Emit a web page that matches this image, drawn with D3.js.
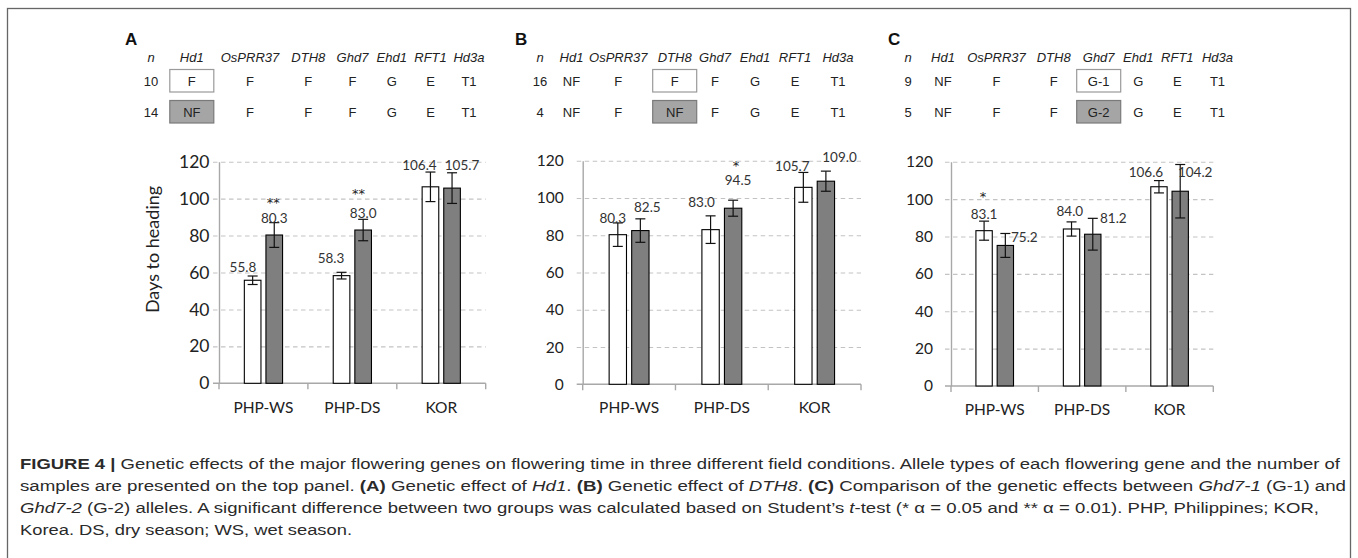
<!DOCTYPE html>
<html><head><meta charset="utf-8">
<script src="https://cdn.jsdelivr.net/npm/d3@7"></script>
<style>body{margin:0;background:#fff} svg{display:block}</style>
</head><body><svg id="c" width="1358" height="558"></svg>
<script>
// ---------------- data ----------------
const categories = ["PHP-WS", "PHP-DS", "KOR"];
const yTickValues = [0, 20, 40, 60, 80, 100, 120];
const genes = ["Hd1", "OsPRR37", "DTH8", "Ghd7", "Ehd1", "RFT1", "Hd3a"];

// panel A: Hd1
const nA = [10, 14];
const allelesA1 = ["F", "F", "F", "F", "G", "E", "T1"];
const allelesA2 = ["NF", "F", "F", "F", "G", "E", "T1"];
const whiteA = [55.8, 58.3, 106.4];
const grayA = [80.3, 83.0, 105.7];
const errWhiteA = [2.3, 1.8, 8.0];
const errGrayA = [6.7, 5.8, 8.3];
const starWhiteA = ["", "", ""];
const starGrayA = ["**", "**", ""];

// panel B: DTH8
const nB = [16, 4];
const allelesB1 = ["NF", "F", "F", "F", "G", "E", "T1"];
const allelesB2 = ["NF", "F", "NF", "F", "G", "E", "T1"];
const whiteB = [80.3, 83.0, 105.7];
const grayB = [82.5, 94.5, 109.0];
const errWhiteB = [6.3, 7.4, 8.0];
const errGrayB = [6.3, 4.3, 5.4];
const starWhiteB = ["", "", ""];
const starGrayB = ["", "*", ""];

// panel C: Ghd7
const nC = [9, 5];
const allelesC1 = ["NF", "F", "F", "G-1", "G", "E", "T1"];
const allelesC2 = ["NF", "F", "F", "G-2", "G", "E", "T1"];
const whiteC = [83.1, 84.0, 106.6];
const grayC = [75.2, 81.2, 104.2];
const errWhiteC = [5.1, 3.8, 3.3];
const errGrayC = [6.4, 8.5, 14.3];
const starWhiteC = ["*", "", ""];
const starGrayC = ["", "", ""];

const captionLines = [
  [["b","FIGURE 4 | "],["n","Genetic effects of the major flowering genes on flowering time in three different field conditions. Allele types of each flowering gene and the number of"]],
  [["n","samples are presented on the top panel. "],["b","(A)"],["n"," Genetic effect of "],["i","Hd1"],["n",". "],["b","(B)"],["n"," Genetic effect of "],["i","DTH8"],["n",". "],["b","(C)"],["n"," Comparison of the genetic effects between "],["i","Ghd7-1"],["n"," (G-1) and"]],
  [["i","Ghd7-2"],["n"," (G-2) alleles. A significant difference between two groups was calculated based on Student’s "],["i","t"],["n","-test (* α = 0.05 and ** α = 0.01). PHP, Philippines; KOR,"]],
  [["n","Korea. DS, dry season; WS, wet season."]]
];

// ---------------- layout ----------------
const panels = [
  { key: "A", n: nA, rows: [allelesA1, allelesA2], boxCol: 0,
    white: whiteA, gray: grayA, ew: errWhiteA, eg: errGrayA, sw: starWhiteA, sg: starGrayA,
    letterX: 125, nX: 151, colX: [191.8, 250, 308.3, 352.5, 391.7, 430.5, 469],
    x0: 219, x1: 485.7, yTop: 161.7, yBot: 383.3, tickFont: 17.5, tickGap: 9.5, catY: 413.5, catFont: 15.5, ylabel: true,
    lw: [[-9.7, -12.8], [-10.5, -17.3], [-11, -21.8]], lg: [[0, -17], [0, -16.7], [10, -23.1]],
    stw: [[0,0],[0,0],[0,0]], stg: [[-1, -35], [-4.7, -39.5], [0, 0]] },
  { key: "B", n: nB, rows: [allelesB1, allelesB2], boxCol: 2,
    white: whiteB, gray: grayB, ew: errWhiteB, eg: errGrayB, sw: starWhiteB, sg: starGrayB,
    letterX: 515, nX: 540, colX: [571.5, 618.3, 674.7, 715, 755, 795, 838],
    x0: 582.7, x1: 861, yTop: 160.7, yBot: 384.3, tickFont: 15.5, tickGap: 19, catY: 413.5, catFont: 15.5, ylabel: false,
    lw: [[-5, -16.4], [-9, -28], [-11, -21.3]], lg: [[7, -23.9], [5, -28.2], [13.6, -23.9]],
    stw: [[0,0],[0,0],[0,0]], stg: [[0, 0], [3, -45.5], [0, 0]] },
  { key: "C", n: nC, rows: [allelesC1, allelesC2], boxCol: 3,
    white: whiteC, gray: grayC, ew: errWhiteC, eg: errGrayC, sw: starWhiteC, sg: starGrayC,
    letterX: 888, nX: 908, colX: [943, 996.5, 1053.7, 1098.7, 1138.3, 1177.3, 1217.5],
    x0: 951, x1: 1213.3, yTop: 161.7, yBot: 386, tickFont: 15.5, tickGap: 18, catY: 415, catFont: 15.5, ylabel: false,
    lw: [[0, -16.7], [-1.7, -18.3], [-13, -15.1]], lg: [[19, -8.2], [20.6, -15.9], [15, -18.6]],
    stw: [[-1, -37],[0,0],[0,0]], stg: [[0, 0], [0, 0], [0, 0]] }
];

const svg = d3.select("#c");
const chartFont = "Lato, 'Open Sans', sans-serif";
const tableFont = "'Liberation Sans', Arial, sans-serif";

// outer frame
svg.append("rect").attr("x", 7.5).attr("y", 8.5).attr("width", 1343).attr("height", 600)
  .attr("fill", "none").attr("stroke", "#666").attr("stroke-width", 1.3);

panels.forEach(p => {
  const g = svg.append("g");
  // panel letter
  g.append("text").attr("x", p.letterX).attr("y", 45).text(p.key)
    .attr("font-family", tableFont).attr("font-weight", "bold").attr("font-size", 17).attr("fill", "#111");

  // allele table
  const t = g.append("g").attr("font-family", tableFont).attr("font-size", 13).attr("fill", "#222");
  t.append("text").attr("x", p.nX).attr("y", 61.5).attr("text-anchor", "middle").attr("font-style", "italic").text("n");
  genes.forEach((gn, i) => t.append("text").attr("x", p.colX[i]).attr("y", 61.5)
    .attr("text-anchor", "middle").attr("font-style", "italic").text(gn));
  const rowY = [81, 112];
  const bx = p.colX[p.boxCol];
  t.append("rect").attr("x", bx - 22).attr("y", rowY[0] - 11.5).attr("width", 44).attr("height", 22.5)
    .attr("fill", "#fff").attr("stroke", "#9a9a9a").attr("stroke-width", 1.2);
  t.append("rect").attr("x", bx - 22).attr("y", rowY[1] - 11.5).attr("width", 44).attr("height", 22.5)
    .attr("fill", "#a5a5a5").attr("stroke", "#7a7a7a").attr("stroke-width", 1.2);
  p.rows.forEach((row, r) => {
    t.append("text").attr("x", p.nX).attr("y", rowY[r]).attr("dy", "0.36em").attr("text-anchor", "middle").text(p.n[r]);
    row.forEach((a, i) => t.append("text").attr("x", p.colX[i]).attr("y", rowY[r]).attr("dy", "0.36em")
      .attr("text-anchor", "middle").text(a));
  });

  // scales
  const x = d3.scaleBand().domain(categories).range([p.x0, p.x1]).paddingInner(0).paddingOuter(0);
  const y = d3.scaleLinear().domain([0, 120]).range([p.yBot, p.yTop]);
  const band = x.bandwidth();
  const bw = band * 0.187, gap = band * 0.056;

  // gridlines
  const grid = g.append("g").attr("transform", `translate(${p.x0},0)`)
    .call(d3.axisLeft(y).tickValues(yTickValues.filter(v => v > 0)).tickSize(-(p.x1 - p.x0 + 6)).tickFormat(""));
  grid.select(".domain").remove();
  grid.selectAll(".tick line").attr("transform", "translate(-6,0)").attr("stroke", "#c3c3c3")
    .attr("stroke-dasharray", "4.5,3.5").attr("stroke-width", 1.1);

  // y axis labels
  const ya = g.append("g").attr("transform", `translate(${p.x0},0)`)
    .call(d3.axisLeft(y).tickValues(yTickValues).tickSize(0).tickPadding(p.tickGap));
  ya.select(".domain").attr("stroke", "#a8a8a8").attr("stroke-width", 1.4);
  ya.selectAll("text").attr("font-family", chartFont).attr("font-size", p.tickFont).attr("fill", "#222");

  // x axis
  const xa = g.append("g").attr("transform", `translate(0,${p.yBot})`)
    .call(d3.axisBottom(x).tickSize(0).tickPadding(0));
  xa.select(".domain").remove();
  xa.selectAll("text").attr("font-family", chartFont).attr("font-size", p.catFont).attr("fill", "#222")
    .attr("dy", null).attr("y", p.catY - p.yBot);
  g.append("line").attr("x1", p.x0 - 6).attr("x2", p.x1).attr("y1", p.yBot).attr("y2", p.yBot)
    .attr("stroke", "#a8a8a8").attr("stroke-width", 1.4);
  const bounds = [p.x0].concat(categories.map(c => x(c) + band));
  g.selectAll(null).data(bounds).join("line")
    .attr("x1", d => d).attr("x2", d => d).attr("y1", p.yBot).attr("y2", p.yBot + 6)
    .attr("stroke", "#a8a8a8").attr("stroke-width", 1.4);

  // bars
  const series = [
    { vals: p.white, err: p.ew, stars: p.sw, fill: "#ffffff", off: -gap / 2 - bw, lab: p.lw, st: p.stw },
    { vals: p.gray, err: p.eg, stars: p.sg, fill: "#7f7f7f", off: gap / 2, lab: p.lg, st: p.stg }
  ];
  series.forEach(s => {
    categories.forEach((c, i) => {
      const v = s.vals[i], e = s.err[i];
      const bx0 = x(c) + band / 2 + s.off;
      const cx = bx0 + bw / 2;
      g.append("rect").attr("x", bx0).attr("y", y(v)).attr("width", bw).attr("height", y(0) - y(v))
        .attr("fill", s.fill).attr("stroke", "#000").attr("stroke-width", 1.1);
      // error bar
      g.append("line").attr("x1", cx).attr("x2", cx).attr("y1", y(v - e)).attr("y2", y(v + e))
        .attr("stroke", "#111").attr("stroke-width", 1.2);
      [v - e, v + e].forEach(yy => g.append("line").attr("x1", cx - 5).attr("x2", cx + 5)
        .attr("y1", y(yy)).attr("y2", y(yy)).attr("stroke", "#111").attr("stroke-width", 1.2));
      // value label
      g.append("text").attr("x", cx + s.lab[i][0]).attr("y", y(v) + s.lab[i][1]).attr("dy", "0.36em")
        .attr("text-anchor", "middle").attr("font-family", chartFont).attr("font-size", 13.5).attr("fill", "#333")
        .text(v.toFixed(1));
      if (s.stars[i]) {
        g.append("text").attr("x", cx + s.st[i][0]).attr("y", y(v) + s.st[i][1] + 7).attr("text-anchor", "middle")
          .attr("font-family", "'DejaVu Sans', sans-serif").attr("font-size", 13).attr("fill", "#222").text(s.stars[i]);
      }
    });
  });

  if (p.ylabel) {
    g.append("text").attr("transform", `translate(153,${(p.yTop + p.yBot) / 2 - 23}) rotate(-90)`)
      .attr("dy", "0.36em").attr("text-anchor", "middle").attr("font-family", chartFont)
      .attr("font-size", 18).attr("fill", "#222").text("Days to heading");
  }
});

// caption
const capEnds = [1340, 1346, 1319, 352];
const capBase = [468.5, 490.5, 512.5, 534.5];
captionLines.forEach((line, li) => {
  const txt = svg.append("text").attr("x", 20).attr("y", capBase[li])
    .attr("font-family", "'Liberation Sans Narrow', 'Liberation Sans', Arial, sans-serif")
    .attr("font-size", 15.5).attr("fill", "#2a2a2a");
  line.forEach(([st, s]) => {
    const ts = txt.append("tspan").text(s);
    if (st === "b") ts.attr("font-weight", "bold");
    if (st === "i") ts.attr("font-style", "italic");
  });
  txt.attr("textLength", capEnds[li] - 20).attr("lengthAdjust", "spacingAndGlyphs");
});
</script>
</body></html>
